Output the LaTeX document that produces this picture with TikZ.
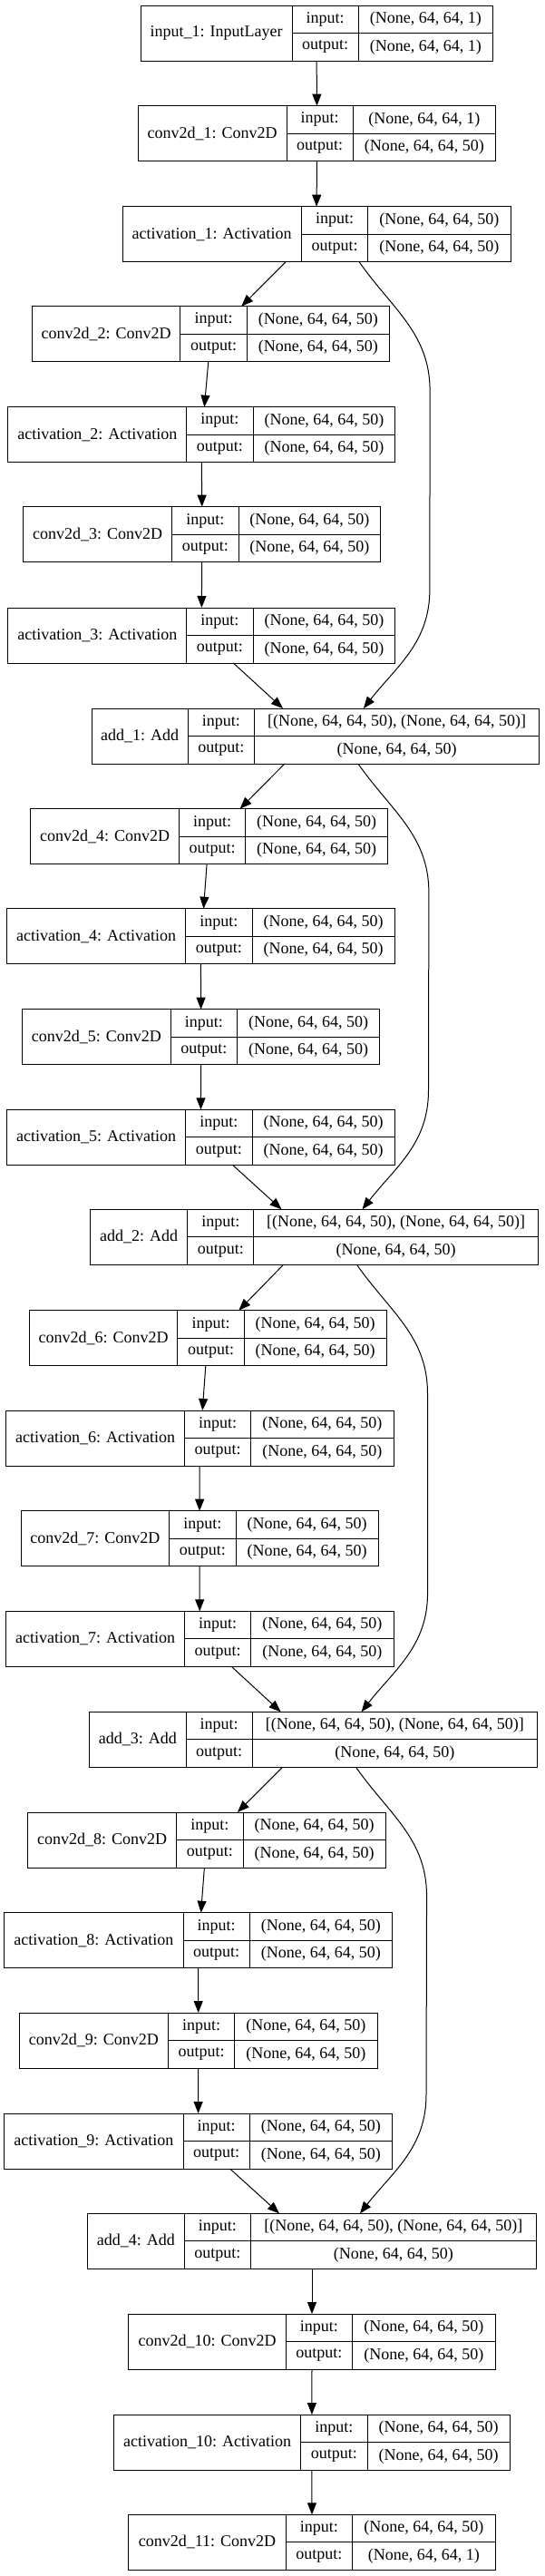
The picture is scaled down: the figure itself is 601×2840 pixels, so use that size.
\documentclass[tikz,border=0pt]{standalone}
\usepackage{fontspec}
\setmainfont{Liberation Serif}
\usetikzlibrary{arrows.meta,calc,fit}

\tikzset{
  cellbase/.style={draw, line width=1pt, inner sep=0pt, outer sep=0pt,
    font=\fontsize{18}{20}\selectfont},
  titlecell/.style={cellbase, minimum height=61pt},
  portcell/.style={cellbase, minimum height=30.5pt, minimum width=73.3pt},
  arr/.style={-{Triangle[length=13pt,width=10pt]}, line width=1pt}
}
\newcommand{\kshape}[1]{(None, 64, 64, #1)}
% id, left x, title width, value width, top y, title, input, output
\newcommand{\layer}[8]{%
  \node[titlecell, minimum width=#3pt, anchor=north west] (#1-t) at (#2,-#5) {#6};
  \node[portcell, anchor=north west] (#1-il) at (#1-t.north east) {input:};
  \node[portcell, anchor=north west] (#1-ol) at (#1-il.south west) {output:};
  \node[portcell, minimum width=#4pt, anchor=north west] (#1-iv) at (#1-il.north east) {#7};
  \node[portcell, minimum width=#4pt, anchor=north west] (#1-ov) at (#1-iv.south west) {#8};
  \node[fit=(#1-t)(#1-ov), inner sep=0pt, outer sep=0pt] (#1) {};
}

\begin{document}
\begin{tikzpicture}[x=1pt,y=1pt]
\useasboundingbox (0,0) rectangle (601,-2840);

\layer{in1}{155}{167}{148}{6}{input\_1: InputLayer}{\kshape{1}}{\kshape{1}}
\layer{c1}{152.3}{163.7}{157.3}{116.7}{conv2d\_1: Conv2D}{\kshape{1}}{\kshape{50}}
\layer{a1}{135}{197.4}{157.5}{227.7}{activation\_1: Activation}{\kshape{50}}{\kshape{50}}

\layer{c2}{35.2}{163.7}{157.2}{337.7}{conv2d\_2: Conv2D}{\kshape{50}}{\kshape{50}}
\layer{a2}{8.8}{197}{156.8}{448.7}{activation\_2: Activation}{\kshape{50}}{\kshape{50}}
\layer{c3}{25.6}{164.1}{156.8}{558.7}{conv2d\_3: Conv2D}{\kshape{50}}{\kshape{50}}
\layer{a3}{8.8}{197}{156.8}{670}{activation\_3: Activation}{\kshape{50}}{\kshape{50}}
\layer{add1}{101}{106.3}{314.2}{781}{add\_1: Add}{[\kshape{50}, \kshape{50}]}{\kshape{50}}

\layer{c4}{33.7}{163.7}{156.8}{891.7}{conv2d\_4: Conv2D}{\kshape{50}}{\kshape{50}}
\layer{a4}{7.7}{197}{157.2}{1001.7}{activation\_4: Activation}{\kshape{50}}{\kshape{50}}
\layer{c5}{24.5}{163.7}{157.2}{1112.7}{conv2d\_5: Conv2D}{\kshape{50}}{\kshape{50}}
\layer{a5}{7.7}{197}{157.2}{1223.3}{activation\_5: Activation}{\kshape{50}}{\kshape{50}}
\layer{add2}{99.8}{106.8}{313.3}{1333.3}{add\_2: Add}{[\kshape{50}, \kshape{50}]}{\kshape{50}}

\layer{c6}{32.5}{163.4}{156.9}{1444.7}{conv2d\_6: Conv2D}{\kshape{50}}{\kshape{50}}
\layer{a6}{6.5}{197}{157.2}{1555}{activation\_6: Activation}{\kshape{50}}{\kshape{50}}
\layer{c7}{23}{163.7}{157.2}{1665.7}{conv2d\_7: Conv2D}{\kshape{50}}{\kshape{50}}
\layer{a7}{6.5}{197}{157.2}{1776.3}{activation\_7: Activation}{\kshape{50}}{\kshape{50}}
\layer{add3}{98.7}{106.3}{314.1}{1887.3}{add\_3: Add}{[\kshape{50}, \kshape{50}]}{\kshape{50}}

\layer{c8}{30.6}{164.1}{157.2}{1998}{conv2d\_8: Conv2D}{\kshape{50}}{\kshape{50}}
\layer{a8}{4.6}{197.4}{157.3}{2108.7}{activation\_8: Activation}{\kshape{50}}{\kshape{50}}
\layer{c9}{21.4}{164.1}{157.2}{2219}{conv2d\_9: Conv2D}{\kshape{50}}{\kshape{50}}
\layer{a9}{4.6}{197.4}{157.3}{2330}{activation\_9: Activation}{\kshape{50}}{\kshape{50}}
\layer{add4}{96.8}{106.3}{314.8}{2440.3}{add\_4: Add}{[\kshape{50}, \kshape{50}]}{\kshape{50}}

\layer{c10}{141.9}{173.3}{157.6}{2551}{conv2d\_10: Conv2D}{\kshape{50}}{\kshape{50}}
\layer{a10}{125.5}{206.2}{157.3}{2662}{activation\_10: Activation}{\kshape{50}}{\kshape{50}}
\layer{c11}{141.9}{173.3}{157.6}{2772.3}{conv2d\_11: Conv2D}{\kshape{50}}{\kshape{1}}

\draw[arr] (in1.south) -- (c1.north);
\draw[arr] (c1.south) -- (a1.north);

\foreach \s/\ca/\aa/\cb/\ab/\t in {a1/c2/a2/c3/a3/add1, add1/c4/a4/c5/a5/add2,
    add2/c6/a6/c7/a7/add3, add3/c8/a8/c9/a9/add4}{
  \draw[arr] ([xshift=-34pt]\s.south) -- ([xshift=34pt]\ca.north);
  \draw[arr] ([xshift=-2.5pt]\ca.south) -- ([xshift=3pt]\aa.north);
  \draw[arr] (\aa.south) -- (\cb.north);
  \draw[arr] (\cb.south) -- (\ab.north);
  \draw[arr] ([xshift=35pt]\ab.south) -- ([xshift=-36pt]\t.north);
  \draw[arr] ([xshift=47pt]\s.south) to[out=-55,in=90] ($(\s.south)+(125,-142)$)
    -- ($(\t.north)+(126,131)$) to[out=-90,in=52] ([xshift=53pt]\t.north);
}

\draw[arr] (add4.south) -- (c10.north);
\draw[arr] (c10.south) -- (a10.north);
\draw[arr] (a10.south) -- (c11.north);
\end{tikzpicture}
\end{document}
